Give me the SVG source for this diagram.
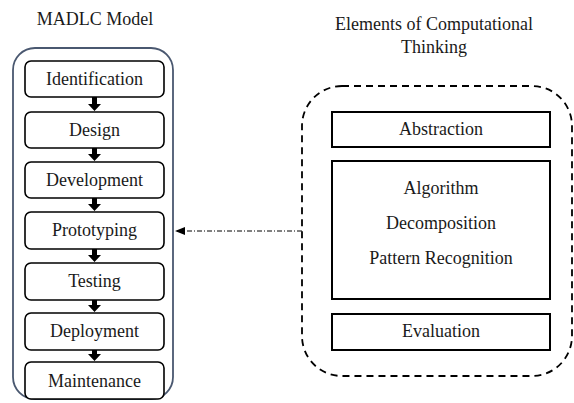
<svg xmlns="http://www.w3.org/2000/svg" width="574" height="403" viewBox="0 0 574 403">
<style>
text{font-family:"Liberation Serif","Times New Roman",serif;fill:#1a1a1a;text-anchor:middle}
.t{font-size:18px}
.b{font-size:18px}
.step{fill:#fff;stroke:#000;stroke-width:1.6}
.ct{fill:#fff;stroke:#000;stroke-width:2}
.arr{fill:#000}
</style>
<defs>
<marker id="ah" markerWidth="10" markerHeight="8" refX="9" refY="4" orient="auto" markerUnits="userSpaceOnUse">
<path d="M0,0 L10,4 L0,8 Z" fill="#000"/>
</marker>
</defs>
<text class="t" x="95" y="25">MADLC Model</text>
<text class="t" x="434" y="30">Elements of Computational</text>
<text class="t" x="434" y="53">Thinking</text>
<g id="madlc">
<rect x="13" y="48" width="160" height="351" rx="22" fill="none" stroke="#4a5870" stroke-width="1.8"/>
</g>
<g id="identification"><rect class="step" x="25" y="61" width="139" height="36" rx="6"/><text class="b" x="94.5" y="85">Identification</text></g>
<g id="design"><rect class="step" x="25" y="112" width="139" height="36" rx="6"/><text class="b" x="94.5" y="136">Design</text></g>
<g id="development"><rect class="step" x="25" y="162" width="139" height="36" rx="6"/><text class="b" x="94.5" y="186">Development</text></g>
<g id="prototyping"><rect class="step" x="25" y="212" width="139" height="37" rx="6"/><text class="b" x="94.5" y="236">Prototyping</text></g>
<g id="testing"><rect class="step" x="25" y="263" width="139" height="37" rx="6"/><text class="b" x="94.5" y="287">Testing</text></g>
<g id="deployment"><rect class="step" x="25" y="313" width="139" height="37" rx="6"/><text class="b" x="94.5" y="337">Deployment</text></g>
<g id="maintenance"><rect class="step" x="25" y="362" width="139" height="37" rx="6"/><text class="b" x="94.5" y="387">Maintenance</text></g>
<g id="ct">
<rect x="302" y="86" width="270" height="290" rx="40" fill="none" stroke="#000" stroke-width="1.8" stroke-dasharray="7,5"/>
</g>
<g id="abstraction"><rect class="ct" x="332" y="112" width="218" height="35"/><text class="b" x="441" y="135">Abstraction</text></g>
<g id="core"><rect class="ct" x="332" y="161" width="218" height="138"/>
<text class="b" x="441" y="194">Algorithm</text>
<text class="b" x="441" y="229">Decomposition</text>
<text class="b" x="441" y="264">Pattern Recognition</text></g>
<g id="evaluation"><rect class="ct" x="332" y="314" width="218" height="36"/><text class="b" x="441" y="337">Evaluation</text></g>
<g id="connectors">
<path class="arr" d="M92,97 H97 V104 H101 L94.5,111 L88,104 H92 Z"/>
<path class="arr" d="M92,148 H97 V154 H101 L94.5,161 L88,154 H92 Z"/>
<path class="arr" d="M92,198 H97 V204 H101 L94.5,211 L88,204 H92 Z"/>
<path class="arr" d="M92,249 H97 V255 H101 L94.5,262 L88,255 H92 Z"/>
<path class="arr" d="M92,300 H97 V305 H101 L94.5,312 L88,305 H92 Z"/>
<path class="arr" d="M92,350 H97 V354 H101 L94.5,361 L88,354 H92 Z"/>
<line x1="302" y1="231" x2="176" y2="231" stroke="#000" stroke-width="1" stroke-dasharray="5,2,1,2" marker-end="url(#ah)"/>
</g>
</svg>
